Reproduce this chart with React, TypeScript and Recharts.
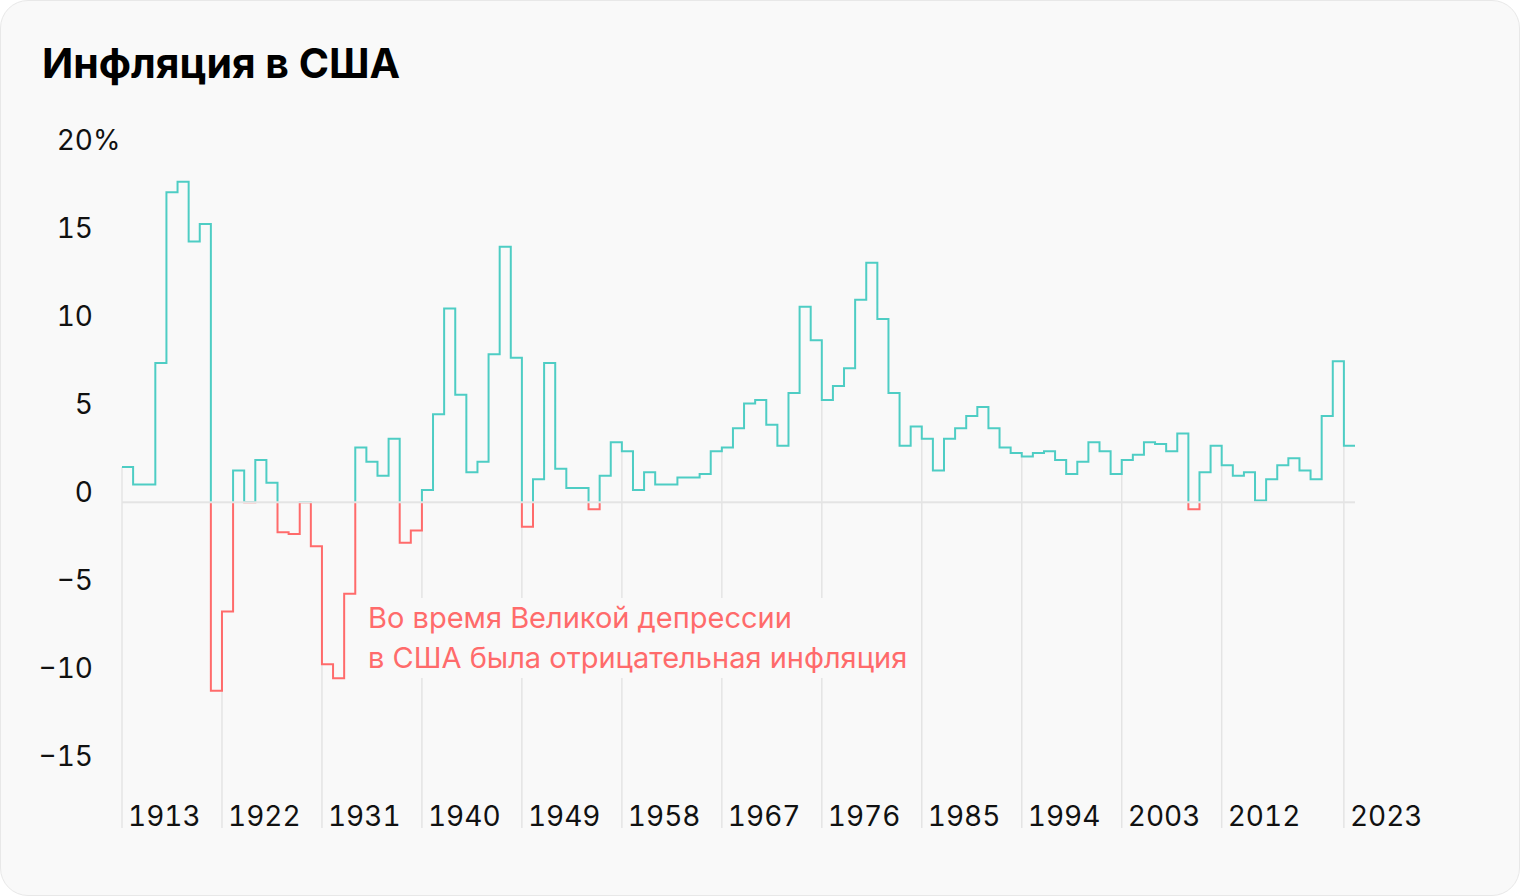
import { LineChart, Line, XAxis, YAxis, ReferenceLine } from "recharts";

// annual CPI change, %, one value per year starting 1913
const years: number[] = Array.from({ length: 111 }, (_, i) => 1913 + i);
const inflation: number[] = [
  2.0, 1.0, 1.0, 7.9, 17.6, 18.2, 14.8, 15.8, -10.7, -6.2, // 1913-1922
  1.8, 0.0, 2.4, 1.1, -1.7, -1.8, 0.0, -2.5, -9.2, -10.0, // 1923-1932
  -5.2, 3.1, 2.3, 1.5, 3.6, -2.3, -1.6, 0.7, 5.0, 11.0, // 1933-1942
  6.1, 1.7, 2.3, 8.4, 14.5, 8.2, -1.4, 1.3, 7.9, 1.9, // 1943-1952
  0.8, 0.8, -0.4, 1.5, 3.4, 2.9, 0.7, 1.7, 1.0, 1.0, // 1953-1962
  1.4, 1.4, 1.6, 2.9, 3.1, 4.2, 5.6, 5.8, 4.4, 3.2, // 1963-1972
  6.2, 11.1, 9.2, 5.8, 6.6, 7.6, 11.5, 13.6, 10.4, 6.2, // 1973-1982
  3.2, 4.3, 3.6, 1.8, 3.6, 4.2, 4.9, 5.4, 4.2, 3.1, // 1983-1992
  2.8, 2.6, 2.8, 2.9, 2.4, 1.6, 2.3, 3.4, 2.9, 1.6, // 1993-2002
  2.4, 2.7, 3.4, 3.3, 2.9, 3.9, -0.4, 1.7, 3.2, 2.1, // 2003-2012
  1.5, 1.7, 0.1, 1.3, 2.1, 2.5, 1.8, 1.3, 4.9, 8.0, // 2013-2022
  3.2, // 2023
];
const yearTicks: number[] = [1913, 1922, 1931, 1940, 1949, 1958, 1967, 1976, 1985, 1994, 2003, 2012, 2023];
const valueTicks: number[] = [-15, -10, -5, 0, 5, 10, 15, 20];

const TEAL = "#4ecdc4";
const RED = "#ff6b6b";
const GRID = "#e4e4e4";
const FONT = "Inter, 'Noto Sans', sans-serif";
const Y_MIN = -18.5;
const Y_MAX = 20;

// extra point closes the last step
const data = years.map((y, i) => ({ year: y, value: inflation[i] }));
data.push({ year: years[years.length - 1] + 1, value: inflation[inflation.length - 1] });

const maxV = Math.max(...inflation);
const minV = Math.min(...inflation);
const zeroOffset = maxV / (maxV - minV);

const valueAt = (yr: number) => inflation[years.indexOf(yr)];

const tickStyle = { fontVariantNumeric: "tabular-nums" as const };

const YTick = (props: any) => {
  const { y, payload } = props;
  const v = payload.value as number;
  const label = v < 0 ? "\u2212" + Math.abs(v) : String(v);
  return (
    <g>
      <text x={93} y={y} textAnchor="end" fill="#111" fontSize={28} fontFamily={FONT} style={tickStyle}>
        {label}
      </text>
      {v === Y_MAX && (
        <text x={93} y={y} textAnchor="start" fill="#111" fontSize={28} fontFamily={FONT}>
          %
        </text>
      )}
    </g>
  );
};

const XTick = (props: any) => {
  const { x, y, payload } = props;
  return (
    <text x={x + 6} y={y - 2} textAnchor="start" fill="#111" fontSize={28} fontFamily={FONT} style={tickStyle}>
      {payload.value}
    </text>
  );
};

export default function App() {
  return (
    <div
      style={{
        position: "relative",
        width: 1520,
        height: 896,
        boxSizing: "border-box",
        background: "#f9f9f9",
        border: "1px solid #e8e8e8",
        borderRadius: 28,
        overflow: "hidden",
        fontFamily: FONT,
      }}
    >
      <style>{"body{margin:0}"}</style>
      <div
        style={{
          position: "absolute",
          left: 41,
          top: 42,
          fontSize: 41,
          lineHeight: "41px",
          fontWeight: 700,
          color: "#000",
          whiteSpace: "nowrap",
        }}
      >
        Инфляция в США
      </div>

      <div style={{ position: "absolute", left: -1, top: -1 }}>
        <LineChart
          width={1520}
          height={896}
          data={data}
          margin={{ top: 150, right: 165, bottom: 0, left: 0 }}
        >
          <defs>
            <linearGradient id="inflSplit" x1="0" y1="0" x2="0" y2="1">
              <stop offset={0} stopColor={TEAL} />
              <stop offset={zeroOffset} stopColor={TEAL} />
              <stop offset={zeroOffset} stopColor={RED} />
              <stop offset={1} stopColor={RED} />
            </linearGradient>
          </defs>
          <XAxis
            type="number"
            dataKey="year"
            domain={[1913, 2024]}
            ticks={yearTicks}
            allowDataOverflow
            axisLine={false}
            tickLine={false}
            tickSize={0}
            tickMargin={0}
            height={68}
            interval={0}
            tick={<XTick />}
          />
          <YAxis
            type="number"
            domain={[Y_MIN, Y_MAX]}
            ticks={valueTicks}
            allowDataOverflow
            axisLine={false}
            tickLine={false}
            width={122}
            interval={0}
            tick={<YTick />}
          />
          {yearTicks.map((yr) => (
            <ReferenceLine
              key={yr}
              segment={[
                { x: yr, y: valueAt(yr) },
                { x: yr, y: Y_MIN },
              ]}
              stroke={GRID}
              strokeWidth={1.5}
            />
          ))}
          <Line
            type="stepAfter"
            dataKey="value"
            stroke="url(#inflSplit)"
            strokeWidth={2}
            dot={false}
            activeDot={false}
            isAnimationActive={false}
          />
          <ReferenceLine y={0} stroke={GRID} strokeWidth={2} />
        </LineChart>
      </div>

      <div
        style={{
          position: "absolute",
          left: 361,
          top: 597,
          paddingLeft: 6,
          paddingRight: 6,
          background: "#f9f9f9",
          color: RED,
          fontSize: 29,
          lineHeight: "40px",
          whiteSpace: "nowrap",
        }}
      >
        Во время Великой депрессии
        <br />в США была отрицательная инфляция
      </div>
    </div>
  );
}
